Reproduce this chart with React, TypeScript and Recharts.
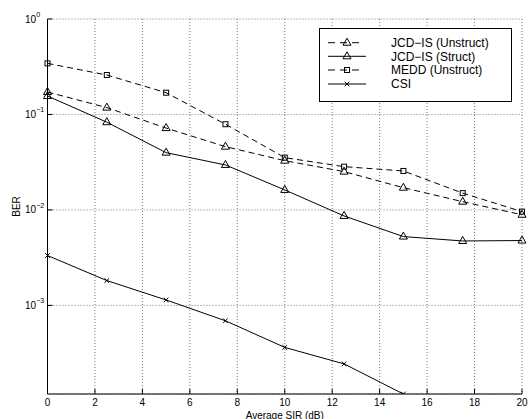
import { LineChart, Line, XAxis, YAxis, CartesianGrid, Label } from "recharts";

const sir = [0, 2.5, 5, 7.5, 10, 12.5, 15, 17.5, 20];
const jcdUnstruct = [0.172, 0.118, 0.072, 0.046, 0.0328, 0.0252, 0.0171, 0.0122, 0.0089];
const jcdStruct = [0.156, 0.083, 0.0398, 0.0296, 0.0162, 0.00865, 0.00526, 0.00473, 0.00478];
const medd = [0.343, 0.259, 0.169, 0.079, 0.0353, 0.0284, 0.0256, 0.015, 0.0096];
const csi = [0.00333, 0.00182, 0.00114, 0.00069, 0.000363, 0.000244, 0.000118, null, null];

const xTicks = [0, 2, 4, 6, 8, 10, 12, 14, 16, 18, 20];
const yTicks = [1e-3, 1e-2, 1e-1, 1];
const yMin = 0.000118;

const legendItems = [
  { name: "JCD\u2212IS (Unstruct)", dashed: true, marker: "tri" },
  { name: "JCD\u2212IS (Struct)", dashed: false, marker: "tri" },
  { name: "MEDD (Unstruct)", dashed: true, marker: "sq" },
  { name: "CSI", dashed: false, marker: "x" },
];

const data = sir.map((s, i) => ({
  sir: s,
  jcdUnstruct: jcdUnstruct[i],
  jcdStruct: jcdStruct[i],
  medd: medd[i],
  csi: csi[i],
}));

const font = "'Liberation Sans', Arial, Helvetica, sans-serif";

function Marker({ kind, cx, cy }: { kind: string; cx: number; cy: number }) {
  if (kind === "tri") {
    return (
      <polygon
        points={`${cx},${cy - 4.5} ${cx + 4},${cy + 2.5} ${cx - 4},${cy + 2.5}`}
        fill="none"
        stroke="#000"
        strokeWidth={1}
      />
    );
  }
  if (kind === "sq") {
    return <rect x={cx - 2.5} y={cy - 2.5} width={5} height={5} fill="none" stroke="#000" strokeWidth={1} />;
  }
  return (
    <g stroke="#000" strokeWidth={1}>
      <line x1={cx - 2.3} y1={cy - 2.3} x2={cx + 2.3} y2={cy + 2.3} />
      <line x1={cx - 2.3} y1={cy + 2.3} x2={cx + 2.3} y2={cy - 2.3} />
    </g>
  );
}

const makeDot = (kind: string) => (p: any) => {
  if (p.value == null || p.cy == null || isNaN(p.cy)) return <g key={p.index} />;
  return (
    <g key={p.index}>
      <Marker kind={kind} cx={p.cx} cy={p.cy} />
    </g>
  );
};

const BottomTick = ({ x, y, payload }: any) => (
  <g>
    <line x1={x} x2={x} y1={y} y2={y - 5} stroke="#000" />
    <text x={x} y={y + 12.4} textAnchor="middle" fontSize={10} fontFamily={font} fill="#000">
      {payload.value}
    </text>
  </g>
);

const TopTick = ({ x, y }: any) => <line x1={x} x2={x} y1={y} y2={y + 5} stroke="#000" />;

const LeftTick = ({ x, y, payload }: any) => {
  const e = Math.round(Math.log10(payload.value));
  return (
    <g>
      <line x1={x} x2={x + 5} y1={y} y2={y} stroke="#000" />
      <text x={x - 22.5} y={y + 3.5} fontSize={10} fontFamily={font} fill="#000">
        10
        <tspan dy={-5.5} fontSize={7}>
          {e === 0 ? "0" : `\u2212${Math.abs(e)}`}
        </tspan>
      </text>
    </g>
  );
};

const RightTick = ({ x, y }: any) => <line x1={x} x2={x - 5} y1={y} y2={y} stroke="#000" />;

function LegendBox() {
  const rows = [42.7, 56.3, 70, 84];
  return (
    <svg width={528} height={419} style={{ position: "absolute", left: 0, top: 0, pointerEvents: "none" }}>
      <rect x={319.5} y={28.5} width={192} height={73} fill="#fff" stroke="#000" strokeWidth={1} />
      {legendItems.map((it, i) => (
        <g key={it.name}>
          <line
            x1={328}
            x2={it.dashed ? 360 : 366}
            y1={rows[i]}
            y2={rows[i]}
            stroke="#000"
            strokeDasharray={it.dashed ? "7 5" : undefined}
          />
          <Marker kind={it.marker} cx={347} cy={rows[i]} />
          <text x={391} y={rows[i] + 4.3} fontSize={12} fontFamily={font} fill="#000">
            {it.name}
          </text>
        </g>
      ))}
    </svg>
  );
}

export default function App() {
  return (
    <div style={{ position: "absolute", left: 0, top: 0, width: 528, height: 419, background: "#fff", fontFamily: font }}>
      <LineChart width={528} height={419} data={data} margin={{ top: 19, right: 6, bottom: 0, left: 0 }}>
        <CartesianGrid xAxisId="bottom" yAxisId="left" stroke="#777" strokeDasharray="1 2" horizontal vertical />
        <XAxis
          xAxisId="bottom"
          dataKey="sir"
          type="number"
          domain={[0, 20]}
          ticks={xTicks}
          interval={0}
          height={25}
          tickSize={0}
          tickMargin={0}
          tickLine={false}
          tick={<BottomTick />}
          axisLine={{ stroke: "#000" }}
        >
          <Label
            content={({ viewBox }: any) => (
              <text
                x={viewBox.x + viewBox.width / 2}
                y={418.5}
                textAnchor="middle"
                fontSize={10}
                fontFamily={font}
                fill="#000"
              >
                Average SIR (dB)
              </text>
            )}
          />
        </XAxis>
        <XAxis
          xAxisId="top"
          orientation="top"
          dataKey="sir"
          type="number"
          domain={[0, 20]}
          ticks={xTicks}
          interval={0}
          height={0}
          tickSize={0}
          tickMargin={0}
          tickLine={false}
          tick={<TopTick />}
          axisLine={{ stroke: "#000" }}
        />
        <YAxis
          yAxisId="left"
          scale="log"
          type="number"
          domain={[yMin, 1]}
          allowDataOverflow
          ticks={yTicks}
          interval={0}
          width={47.5}
          tickSize={0}
          tickMargin={0}
          tickLine={false}
          tick={<LeftTick />}
          axisLine={{ stroke: "#000" }}
        >
          <Label
            content={({ viewBox }: any) => (
              <text
                x={20}
                y={viewBox.y + viewBox.height / 2}
                transform={`rotate(-90 20 ${viewBox.y + viewBox.height / 2})`}
                textAnchor="middle"
                fontSize={10}
                fontFamily={font}
                fill="#000"
              >
                BER
              </text>
            )}
          />
        </YAxis>
        <YAxis
          yAxisId="right"
          orientation="right"
          scale="log"
          type="number"
          domain={[yMin, 1]}
          allowDataOverflow
          ticks={yTicks}
          interval={0}
          width={0}
          tickSize={0}
          tickMargin={0}
          tickLine={false}
          tick={<RightTick />}
          axisLine={{ stroke: "#000" }}
        />
        <Line
          xAxisId="bottom"
          yAxisId="left"
          dataKey="jcdUnstruct"
          stroke="#000"
          strokeWidth={1}
          strokeDasharray="6 4"
          dot={makeDot("tri")}
          isAnimationActive={false}
        />
        <Line
          xAxisId="bottom"
          yAxisId="left"
          dataKey="jcdStruct"
          stroke="#000"
          strokeWidth={1}
          dot={makeDot("tri")}
          isAnimationActive={false}
        />
        <Line
          xAxisId="bottom"
          yAxisId="left"
          dataKey="medd"
          stroke="#000"
          strokeWidth={1}
          strokeDasharray="6 4"
          dot={makeDot("sq")}
          isAnimationActive={false}
        />
        <Line
          xAxisId="bottom"
          yAxisId="left"
          dataKey="csi"
          stroke="#000"
          strokeWidth={1}
          dot={makeDot("x")}
          isAnimationActive={false}
        />
      </LineChart>
      <LegendBox />
    </div>
  );
}
